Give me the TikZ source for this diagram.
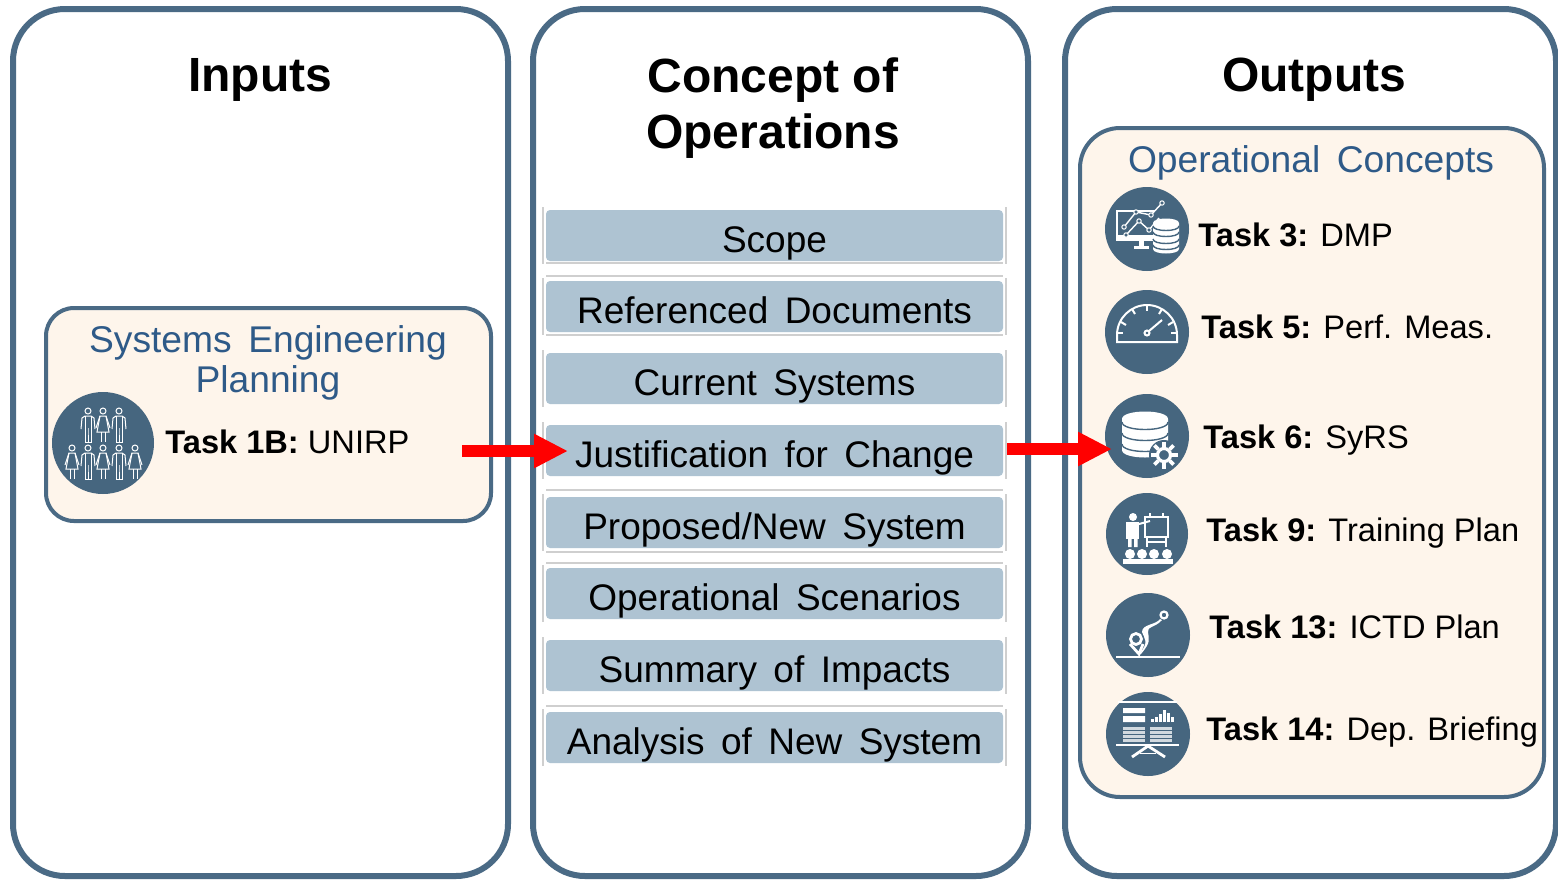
\documentclass[tikz,border=0pt]{standalone}
\usepackage{fontspec}
\setmainfont{Liberation Sans}
\newfontfamily\barfont[WordSpace=1.4]{Liberation Sans}
\newfontfamily\titlefont[WordSpace=1.6]{Liberation Sans}
\usetikzlibrary{arrows.meta}
\definecolor{panelblue}{HTML}{4A6A85}
\definecolor{icondark}{HTML}{46667F}
\definecolor{barblue}{HTML}{AEC3D2}
\definecolor{boxcream}{HTML}{FEF5EB}
\definecolor{titleblue}{HTML}{2E5A88}
\definecolor{fainted}{HTML}{CFCFCF}
\tikzset{
  panel/.style={draw=panelblue,line width=3pt,rounded corners=26pt,outer sep=0pt},
  innerbox/.style={draw=panelblue,line width=2pt,fill=boxcream,outer sep=0pt},
  heading/.style={align=center,font=\fontsize{24}{28}\selectfont\bfseries},
  bar/.style={fill=barblue,rounded corners=2pt,inner sep=0pt,outer sep=0pt,minimum width=228.5pt,
    text height=21pt,text depth=4.5pt,font=\barfont\fontsize{18.5}{20}\selectfont},
  faint/.style={draw=fainted,line width=.6pt},
  boxtitle/.style={align=center,text=titleblue,font=\titlefont\fontsize{18.6}{20}\selectfont},
  tasklabel/.style={anchor=west,inner sep=0pt,font=\fontsize{16.3}{20}\selectfont},
  iconcircle/.style={circle,fill=icondark,inner sep=0pt,outer sep=0pt},
  iconline/.style={draw=white,line width=1pt},
  redarrow/.style={draw=red,line width=6pt,-{Triangle[length=17pt,width=16pt]}}
}
% database stack: centre x, top, bottom, x radius, bulge, band positions
\newcommand{\dbstack}[6]{
  \fill[white] ({#1-#4},#2) .. controls ({#1-#4},{#2-#5}) and ({#1+#4},{#2-#5}) .. ({#1+#4},#2)
    -- ({#1+#4},#3) .. controls ({#1+#4},{#3+#5}) and ({#1-#4},{#3+#5}) .. ({#1-#4},#3) -- cycle;
  \foreach \yband in {#6}
    \draw[icondark,line width=.7pt] ({#1-#4},\yband) .. controls ({#1-#4},{\yband+#5}) and ({#1+#4},{\yband+#5}) .. ({#1+#4},\yband);
}
% one small figure, head at the given point
\newcommand{\manfig}[2]{
  \begin{scope}[shift={(#1,#2)}]
    \draw[iconline,line width=.5pt] (0,0) circle (3);
    \draw[iconline,line width=.5pt] (-7,18) -- (-6,7) -- (-3,5) -- (3,5) -- (6,7) -- (7,18);
    \draw[iconline,line width=.5pt] (-3,5) -- (-3,31) -- (0,31) -- (0,17) -- (0,31) -- (3,31) -- (3,5);
  \end{scope}
}
\newcommand{\womanfig}[2]{
  \begin{scope}[shift={(#1,#2)}]
    \draw[iconline,line width=.5pt] (0,0) circle (3);
    \draw[iconline,line width=.5pt] (-7,17) -- (-3,5) -- (3,5) -- (7,17);
    \draw[iconline,line width=.5pt] (-3,5) -- (-6,21) -- (6,21) -- (3,5);
    \draw[iconline,line width=.5pt] (-2,21) -- (-2,31) (2,21) -- (2,31);
  \end{scope}
}
\begin{document}
\begin{tikzpicture}[x=.5pt,y=-.5pt]
  \useasboundingbox (0,0) rectangle (1558,879);
  \fill[white] (0,0) rectangle (1558,879);

  % the three panels
  \node[panel,minimum width=247.5pt,minimum height=433.5pt,anchor=north west] (inputs) at (13,9) {};
  \node[panel,minimum width=247.5pt,minimum height=433.5pt,anchor=north west] (conops) at (533,9) {};
  \node[panel,minimum width=245.5pt,minimum height=433.5pt,anchor=north west] (outputs) at (1065,9) {};

  \node[heading] (inputstitle) at (260,80) {Inputs};
  \node[heading] (conopstitle) at (773,108) {Concept of\\[.3pt]Operations};
  \node[heading] (outputstitle) at (1314,80) {Outputs};

  % systems engineering box
  \node[innerbox,rounded corners=14pt,minimum width=222.5pt,minimum height=106.5pt,anchor=north west] (planbox) at (46,308) {};
  \node[boxtitle] (plantitle) at (268,363) {Systems Engineering\\Planning};
  \node[iconcircle,minimum size=51pt] (task1icon) at (103,443) {};
  \node[tasklabel] (task1) at (165,442) {\textbf{Task 1B:} UNIRP};
  \manfig{88}{411}
  \womanfig{103}{411}
  \manfig{119}{411}
  \womanfig{72}{448}
  \manfig{88}{448}
  \womanfig{103}{448}
  \manfig{119}{448}
  \womanfig{135}{448}

  % faint rules round the bars
  \foreach \ybar in {210,281,353,425,497,568,640,712} {
    \draw[faint] (543,\ybar-3) -- (543,\ybar+54);
    \draw[faint] (1006,\ybar-3) -- (1006,\ybar+54);
  }
  \foreach \yrule in {263,276,335,490,552,563,706}
    \draw[faint] (546,\yrule) -- (1003,\yrule);

  % concept of operations bars
  \node[bar,anchor=north] (scope) at (774.5,210) {Scope};
  \node[bar,anchor=north] (refdocs) at (774.5,281) {Referenced Documents};
  \node[bar,anchor=north] (current) at (774.5,353) {Current Systems};
  \node[bar,anchor=north] (justify) at (774.5,425) {Justification for Change};
  \node[bar,anchor=north] (proposed) at (774.5,497) {Proposed/New System};
  \node[bar,anchor=north] (scenarios) at (774.5,568) {Operational Scenarios};
  \node[bar,anchor=north] (impacts) at (774.5,640) {Summary of Impacts};
  \node[bar,anchor=north] (analysis) at (774.5,712) {Analysis of New System};

  % operational concepts box
  \node[innerbox,rounded corners=20pt,minimum width=232pt,minimum height=334.5pt,anchor=north west] (opsbox) at (1080,128) {};
  \node[boxtitle] (opstitle) at (1311,163) {Operational Concepts};

  \node[iconcircle,minimum size=42pt] (task3icon) at (1147,229) {};
  \node[iconcircle,minimum size=42pt] (task5icon) at (1147,332) {};
  \node[iconcircle,minimum size=42pt] (task6icon) at (1147,436) {};
  \node[iconcircle,minimum size=41pt] (task9icon) at (1147,534) {};
  \node[iconcircle,minimum size=42pt] (task13icon) at (1148,635) {};
  \node[iconcircle,minimum size=42pt] (task14icon) at (1148,734) {};

  \node[tasklabel] (task3) at (1198,235) {\textbf{Task 3:} DMP};
  \node[tasklabel] (task5) at (1201,327) {\textbf{Task 5:} Perf. Meas.};
  \node[tasklabel] (task6) at (1203,440) {\textbf{Task 6:} SyRS};
  \node[tasklabel] (task9) at (1206,533) {\textbf{Task 9:} Training Plan};
  \node[tasklabel] (task13) at (1209,627) {\textbf{Task 13:} ICTD Plan};
  \node[tasklabel] (task14) at (1206,732) {\textbf{Task 14:} Dep. Briefing};

  % task 3 icon
  \begin{scope}[shift={(task3icon.center)}]
    \draw[iconline] (8,11) -- (-30,11) -- (-30,-18) -- (8,-18);
    \fill[white] (-30,6) rectangle (8,11);
    \fill[white] (-8,11) rectangle (-3,17);
    \fill[white] (-13,17) rectangle (2,19.5);
    \draw[iconline,line width=.7pt] (-23,-2) -- (-11,-17) -- (4,-14) -- (15,-26);
    \draw[iconline,line width=.7pt] (-21,6) -- (-8,-8) -- (2,1) -- (12,-11);
    \foreach \xdot/\ydot in {-23/-2,-11/-17,4/-14,15/-26,-21/6,-8/-8,2/1}
      \filldraw[draw=white,fill=icondark,line width=.5pt] (\xdot,\ydot) circle (2.2);
    \dbstack{19}{-6}{20}{13}{6}{-3,3,10,16}
  \end{scope}

  % task 5 icon
  \begin{scope}[shift={(task5icon.center)}]
    \draw[iconline] (-30,10) -- (-30,3) .. controls (-30,-14) and (-16,-27) .. (0,-27) .. controls (16,-27) and (30,-14) .. (30,3) -- (30,10) -- cycle;
    \foreach \xa/\ya/\xb/\yb in {0/-27/0/-21,-15/-23/-12/-18,15/-23/12/-18,-26/-10/-21/-7,26/-10/21/-7,-30/1/-24/1,30/1/24/1}
      \draw[iconline] (\xa,\ya) -- (\xb,\yb);
    \draw[iconline] (2,-1) -- (15,-12);
    \draw[iconline] (0,1) circle (2.5);
  \end{scope}

  % task 6 icon
  \begin{scope}[shift={(task6icon.center)}]
    \dbstack{-2}{-17}{14}{23}{10}{-14,-3,8}
    \fill[icondark] (17,19) circle (15);
    \foreach \toothangle in {0,45,...,315}
      \draw[white,line width=1.8pt] (17,19) ++(\toothangle:8) -- ++(\toothangle:5.5);
    \draw[white,line width=1.6pt] (17,19) circle (6.5);
  \end{scope}

  % task 9 icon
  \begin{scope}[shift={(task9icon.center)}]
    \fill[white] (-14,-17) circle (4);
    \fill[white] (-21,-12) rectangle (-8,5);
    \fill[white] (-19,5) rectangle (-15.5,13) (-13,5) rectangle (-9.5,13);
    \draw[iconline] (-8,-10) -- (3,-13);
    \draw[iconline] (-2,-17) rectangle (21,3);
    \draw[iconline] (0,3) -- (0,13) (19,3) -- (19,13) (0,8) -- (19,8);
    \draw[iconline] (3,-17) -- (3,-21) (16,-17) -- (16,-21);
    \foreach \xhead in {-17,-5,7,20}
      \fill[white] (\xhead,20) circle (5);
    \fill[white] (-24,25) rectangle (26,29.5);
  \end{scope}

  % task 13 icon
  \begin{scope}[shift={(task13icon.center)}]
    \draw[white,line width=1.4pt] (-12,4) circle (5.5);
    \draw[white,line width=1.4pt] (-18,9) -- (-9,19) -- (-5,9);
    \draw[white,line width=1.1pt] (16,-20) circle (3.5);
    \fill[white] (14,-15) .. controls (7,-7) and (-1,-9) .. (0,-3) .. controls (1,5) and (3,7) .. (-7,19) -- (-9,19) .. controls (2,7) and (-4,3) .. (-6,-3) .. controls (-6,-11) and (8,-10) .. (12,-16) -- cycle;
    \draw[white,line width=1.2pt] (-32,22) -- (32,22);
  \end{scope}

  % task 14 icon
  \begin{scope}[shift={(task14icon.center)}]
    \draw[iconline] (-30,-32) -- (29,-32);
    \fill[white] (-25,-26) rectangle (-3,-21) (-25,-18) rectangle (-3,-12);
    \foreach \xchart/\hchart in {3/3,7/5,11/8,15/12,19/9,23/5}
      \fill[white] (\xchart,-12) rectangle ++(2.5,-\hchart);
    \foreach \ystripe in {-7,-3,1,5} {
      \fill[white!75!icondark] (-25,\ystripe) rectangle (-3,\ystripe+2.5);
      \fill[white!75!icondark] (2,\ystripe) rectangle (24,\ystripe+2.5);
    }
    \draw[iconline] (-32,11) -- (31,11);
    \draw[white,line width=1.4pt] (0,12) -- (-16,23) (0,12) -- (17,23);
    \draw[iconline,line width=.5pt] (-8,19) -- (8,19);
  \end{scope}

  % arrows
  \coordinate (planout) at (462,451);
  \coordinate (outtip) at (1112,449);
  \draw[redarrow,shorten >=-11pt] (planout) -- (justify.west |- planout);
  \draw[redarrow,shorten <=2pt] (justify.east |- outtip) -- (outtip);
\end{tikzpicture}
\end{document}
